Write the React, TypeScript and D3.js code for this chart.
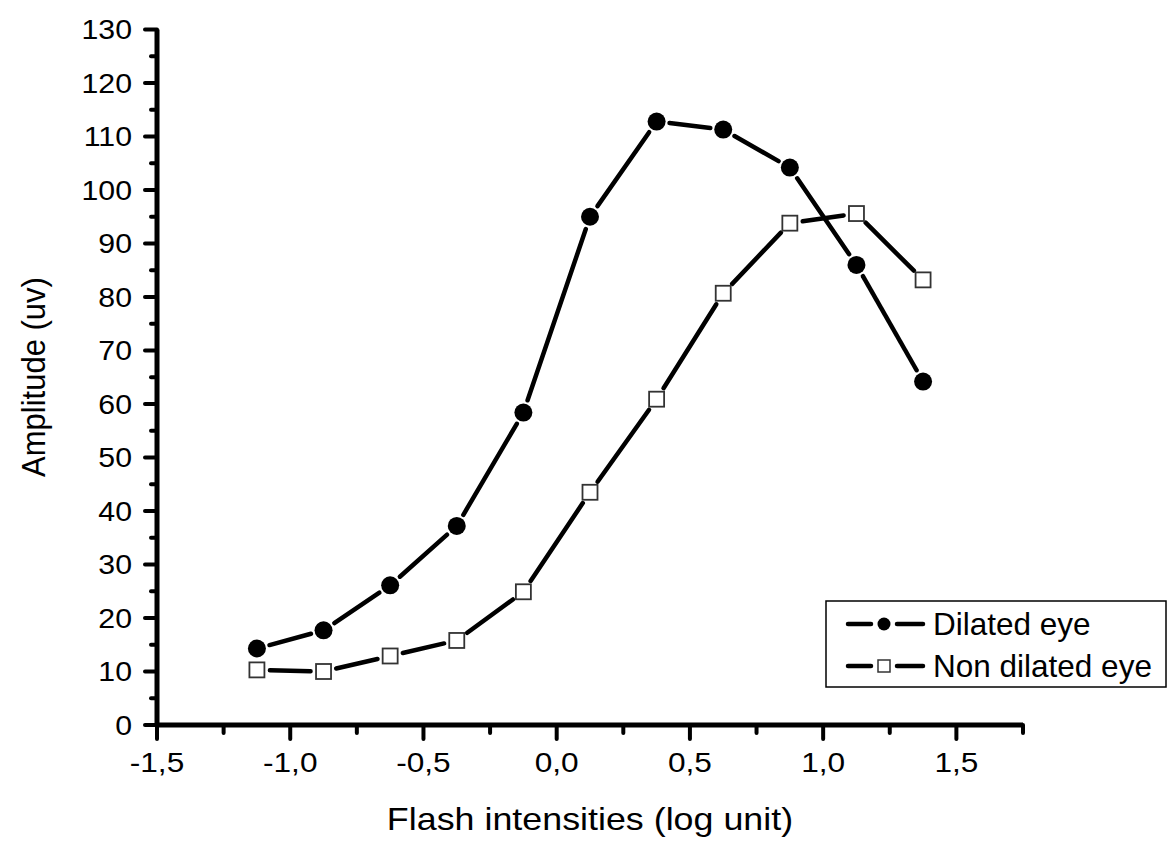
import React from "react";
import * as d3 from "d3";

const xValues = [-1.125, -0.875, -0.625, -0.375, -0.125, 0.125, 0.375, 0.625, 0.875, 1.125, 1.375];
const dilated = [14.3, 17.7, 26.1, 37.2, 58.4, 95.0, 112.8, 111.3, 104.2, 86.0, 64.2];
const nonDilated = [10.3, 10.0, 12.9, 15.8, 24.9, 43.5, 60.9, 80.7, 93.8, 95.6, 83.2];
const xMajorTicks = [-1.5, -1.0, -0.5, 0.0, 0.5, 1.0, 1.5];
const xMinorTicks = [-1.25, -0.75, -0.25, 0.25, 0.75, 1.25, 1.75];
const yMajorTicks = [0, 10, 20, 30, 40, 50, 60, 70, 80, 90, 100, 110, 120, 130];
const yMinorTicks = [5, 15, 25, 35, 45, 55, 65, 75, 85, 95, 105, 115, 125];
const seriesNames = ["Dilated eye", "Non dilated eye"];

const W = 1167, H = 842;
const FONT = "'Liberation Sans', Arial, sans-serif";

export default function App() {
  const x = d3.scaleLinear().domain([-1.5, 1.75]).range([157, 1023]);
  const y = d3.scaleLinear().domain([0, 130]).range([725, 29.5]);
  const x0 = x(-1.5), y0 = y(0);
  const fmt = (v: number) => d3.format(".1f")(v).replace(".", ",").replace("\u2212", "-");

  const segs = (vals: number[]) => {
    const gap = 13;
    const out: JSX.Element[] = [];
    for (let i = 0; i < vals.length - 1; i++) {
      const ax = x(xValues[i]), ay = y(vals[i]);
      const bx = x(xValues[i + 1]), by = y(vals[i + 1]);
      const dx = bx - ax, dy = by - ay;
      const len = Math.hypot(dx, dy);
      if (len <= 2 * gap) continue;
      const ux = dx / len, uy = dy / len;
      out.push(
        <line key={i} x1={ax + ux * gap} y1={ay + uy * gap} x2={bx - ux * gap} y2={by - uy * gap}
          stroke="#000" strokeWidth={4.5} strokeLinecap="round" />
      );
    }
    return out;
  };

  const legX = 826, legY = 601, legW = 340, legH = 86;
  const rows = [legY + 23, legY + 65];

  return (
    <div style={{ position: "absolute", left: 0, top: 0 }}>
      <svg width={W} height={H} style={{ display: "block", background: "#fff" }} fontFamily={FONT}>
        <rect width={W} height={H} fill="#fff" />
        {/* y ticks */}
        {yMajorTicks.map((t) => (
          <g key={"ym" + t}>
            <line x1={x0 - 12} x2={x0} y1={y(t)} y2={y(t)} stroke="#000" strokeWidth={4} strokeLinecap="round" />
            <text transform={`translate(132,${y(t)}) scale(1.1,1)`} dy="0.36em" textAnchor="end" fontSize={27.5}>{t}</text>
          </g>
        ))}
        {yMinorTicks.map((t) => (
          <line key={"yn" + t} x1={x0 - 6} x2={x0} y1={y(t)} y2={y(t)} stroke="#000" strokeWidth={4} strokeLinecap="round" />
        ))}
        {/* x ticks */}
        {xMajorTicks.map((t) => (
          <g key={"xm" + t}>
            <line x1={x(t)} x2={x(t)} y1={y0} y2={y0 + 14} stroke="#000" strokeWidth={4} strokeLinecap="round" />
            <text transform={`translate(${x(t)},772) scale(1.15,1)`} textAnchor="middle" fontSize={27.5}>{fmt(t)}</text>
          </g>
        ))}
        {xMinorTicks.map((t) => (
          <line key={"xn" + t} x1={x(t)} x2={x(t)} y1={y0} y2={y0 + 8} stroke="#000" strokeWidth={4} strokeLinecap="round" />
        ))}
        {/* axes */}
        <line x1={x0} x2={x0} y1={y(130)} y2={y0} stroke="#000" strokeWidth={5} />
        <line x1={x0} x2={x(1.75)} y1={y0} y2={y0} stroke="#000" strokeWidth={5} />
        {/* titles */}
        <text transform={`translate(590,830) scale(1.12,1)`} textAnchor="middle" fontSize={32}>Flash intensities (log unit)</text>
        <text transform={`translate(45,377) scale(1.1,1) rotate(-90)`} textAnchor="middle" fontSize={31}>Amplitude (uv)</text>
        {/* series */}
        {segs(dilated)}
        {segs(nonDilated)}
        {dilated.map((v, i) => (
          <circle key={"d" + i} cx={x(xValues[i])} cy={y(v)} r={9} fill="#000" />
        ))}
        {nonDilated.map((v, i) => (
          <rect key={"n" + i} x={x(xValues[i]) - 7.5} y={y(v) - 7.5} width={15} height={15}
            fill="#fff" stroke="#333" strokeWidth={1.8} />
        ))}
        {/* legend */}
        <rect x={legX} y={legY} width={legW} height={legH} fill="#fff" stroke="#000" strokeWidth={1.5} />
        {rows.map((ry, i) => (
          <g key={"l" + i}>
            <line x1={848} x2={871} y1={ry} y2={ry} stroke="#000" strokeWidth={4.5} strokeLinecap="round" />
            <line x1={897} x2={923} y1={ry} y2={ry} stroke="#000" strokeWidth={4.5} strokeLinecap="round" />
            {i === 0 ? (
              <circle cx={884} cy={ry} r={6.5} fill="#000" />
            ) : (
              <rect x={878} y={ry - 6} width={12} height={12} fill="#fff" stroke="#333" strokeWidth={1.5} />
            )}
            <text x={933} y={ry} dy="0.36em" fontSize={31.5}>{seriesNames[i]}</text>
          </g>
        ))}
      </svg>
    </div>
  );
}
